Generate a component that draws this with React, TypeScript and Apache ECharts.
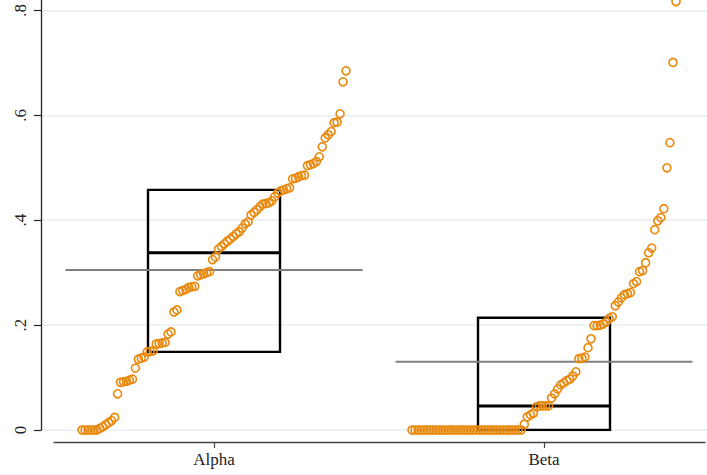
import React, { useEffect, useRef } from "react";
import * as echarts from "echarts";

// ---- data ----
const categories = ["Alpha", "Beta"];

const alphaValues = [
  0, 0, 0, 0, 0, 0,
  0.003, 0.006, 0.01, 0.014, 0.018, 0.024,
  0.069,
  0.091, 0.092, 0.093, 0.095, 0.097,
  0.118,
  0.135, 0.137, 0.139,
  0.149, 0.15, 0.151,
  0.164, 0.165, 0.166, 0.167,
  0.183, 0.187,
  0.225, 0.229,
  0.264, 0.266, 0.268, 0.272, 0.273, 0.274,
  0.294, 0.296, 0.298, 0.3, 0.302,
  0.325, 0.33,
  0.345, 0.35, 0.355, 0.36, 0.364, 0.369, 0.374, 0.378,
  0.385, 0.393, 0.397, 0.41, 0.415, 0.42, 0.426, 0.431, 0.432, 0.433, 0.437, 0.445, 0.452, 0.456, 0.458, 0.46, 0.462,
  0.479, 0.48, 0.483, 0.485, 0.486,
  0.504, 0.506, 0.508, 0.512, 0.521,
  0.54, 0.557, 0.563, 0.569,
  0.586, 0.587, 0.603,
  0.664, 0.685,
];

const betaValues = [
  0, 0, 0, 0, 0, 0, 0, 0, 0, 0,
  0, 0, 0, 0, 0, 0, 0, 0, 0, 0,
  0, 0, 0, 0, 0, 0, 0, 0, 0, 0,
  0, 0, 0, 0, 0, 0, 0,
  0.011, 0.025, 0.029, 0.032, 0.044, 0.046, 0.046, 0.046, 0.046,
  0.061, 0.069, 0.078, 0.086, 0.09, 0.094, 0.097, 0.103, 0.111,
  0.136, 0.137, 0.139, 0.157, 0.174,
  0.199, 0.199, 0.2, 0.202, 0.206, 0.213, 0.216,
  0.237, 0.244, 0.252, 0.258, 0.26, 0.262, 0.279, 0.283, 0.302, 0.304,
  0.319, 0.338, 0.347, 0.382, 0.399, 0.405, 0.422,
  0.5, 0.548, 0.701, 0.817,
];

const q25s = [0.149, 0];
const medians = [0.338, 0.046];
const q75s = [0.458, 0.214];
const means = [0.305, 0.13];

const yTicks = [0, 0.2, 0.4, 0.6, 0.8];

// ---- layout / style ----
const ORANGE = "#e8890e";
const FONT = "'Liberation Serif', 'Times New Roman', serif";
const PX_PER_UNIT = 330;
const FIRST_CENTER_PX = 214;
const PLOT_LEFT = 41;
const AXIS_LEFT = 54;
const W = 707;
const H = 475;
const SPREAD_HALF = 0.4;
const BOX_HALF = 0.2;
const MEAN_HALF = 0.45;

function spread(values: number[], center: number) {
  const n = values.length;
  return values.map((v, i) => [center - SPREAD_HALF + (2 * SPREAD_HALF * i) / (n - 1), v]);
}

function fmtY(v: number) {
  if (Math.abs(v) < 1e-9) return "0";
  return v.toFixed(1).replace(/^0/, "");
}

export default function App() {
  const ref = useRef<HTMLDivElement>(null);

  useEffect(() => {
    if (!ref.current) return;
    const chart = echarts.init(ref.current, null, { renderer: "svg" });

    const min0 = 1 - (FIRST_CENTER_PX - PLOT_LEFT) / PX_PER_UNIT;
    const max0 = min0 + (W - 0 - PLOT_LEFT) / PX_PER_UNIT;
    const min1 = 1 - (FIRST_CENTER_PX - AXIS_LEFT) / PX_PER_UNIT;
    const max1 = min1 + (W - 2 - AXIS_LEFT) / PX_PER_UNIT;

    const groups = [alphaValues, betaValues];
    const series: any[] = [];

    groups.forEach((vals, gi) => {
      const c = gi + 1;
      series.push({
        type: "line",
        xAxisIndex: 0,
        yAxisIndex: 0,
        silent: true,
        symbol: "none",
        lineStyle: { color: "#000", width: 2.4, join: "miter", cap: "square" },
        data: [
          [c - BOX_HALF, q25s[gi]],
          [c + BOX_HALF, q25s[gi]],
          [c + BOX_HALF, q75s[gi]],
          [c - BOX_HALF, q75s[gi]],
          [c - BOX_HALF, q25s[gi]],
        ],
      });
      series.push({
        type: "line",
        xAxisIndex: 0,
        yAxisIndex: 0,
        silent: true,
        symbol: "none",
        lineStyle: { color: "#000", width: 3 },
        data: [
          [c - BOX_HALF, medians[gi]],
          [c + BOX_HALF, medians[gi]],
        ],
      });
      series.push({
        type: "line",
        xAxisIndex: 0,
        yAxisIndex: 0,
        silent: true,
        symbol: "none",
        lineStyle: { color: "#7f7f7f", width: 2 },
        data: [
          [c - MEAN_HALF, means[gi]],
          [c + MEAN_HALF, means[gi]],
        ],
      });
    });

    groups.forEach((vals, gi) => {
      series.push({
        type: "scatter",
        xAxisIndex: 0,
        yAxisIndex: 0,
        clip: false,
        silent: true,
        symbol: "circle",
        symbolSize: 8,
        itemStyle: { color: "rgba(0,0,0,0)", borderColor: ORANGE, borderWidth: 1.6, opacity: 1 },
        data: spread(vals, gi + 1),
        z: 5,
      });
    });

    chart.setOption({
      animation: false,
      backgroundColor: "#fff",
      grid: [
        { left: PLOT_LEFT, right: 0, top: 0, bottom: 45 },
        { left: AXIS_LEFT, right: 2, top: 0, bottom: 45 },
      ],
      xAxis: [
        { type: "value", gridIndex: 0, min: min0, max: max0, show: false },
        {
          type: "value",
          gridIndex: 1,
          min: min1,
          max: max1,
          offset: 12,
          position: "bottom",
          axisLine: { show: true, onZero: false, lineStyle: { color: "#444", width: 1.3 } },
          axisTick: { show: true, customValues: [1, 2], length: 6, lineStyle: { color: "#444", width: 1.2 } },
          axisLabel: {
            customValues: [1, 2],
            formatter: (v: number) => categories[Math.round(v) - 1] ?? "",
            margin: 9,
            fontFamily: FONT,
            fontSize: 17,
            color: "#222",
          },
          splitLine: { show: false },
        },
      ],
      yAxis: [
        {
          type: "value",
          gridIndex: 0,
          min: 0,
          max: 0.82,
          axisLine: { show: true, onZero: false, lineStyle: { color: "#222", width: 1.3 } },
          axisTick: { show: true, customValues: yTicks, length: 7, lineStyle: { color: "#222", width: 1.2 } },
          axisLabel: {
            customValues: yTicks,
            rotate: 90,
            margin: 12,
            formatter: fmtY,
            fontFamily: FONT,
            fontSize: 17,
            color: "#222",
          },
          splitLine: { show: true, lineStyle: { color: "#e8eef2", width: 1.5 } },
        },
        { type: "value", gridIndex: 1, min: 0, max: 1, show: false },
      ],
      series,
    });

    return () => chart.dispose();
  }, []);

  return (
    <div
      ref={ref}
      style={{ position: "fixed", left: 0, top: 0, width: W, height: H, background: "#fff" }}
    />
  );
}
